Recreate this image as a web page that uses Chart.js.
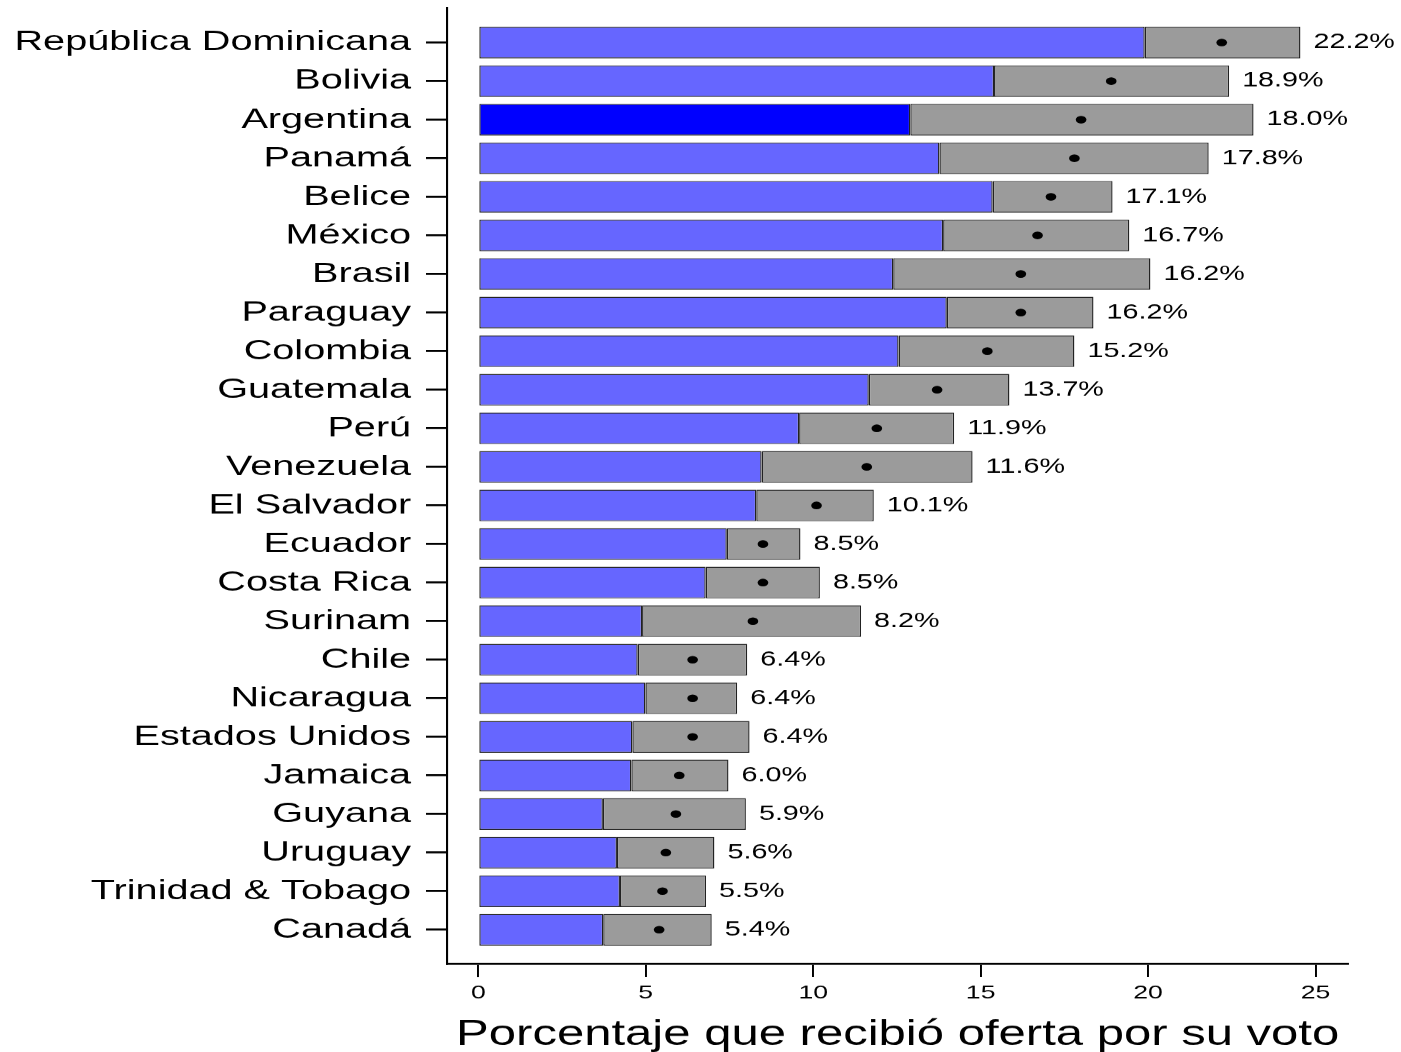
<!DOCTYPE html>
<html>
<head>
<meta charset="utf-8">
<title>Porcentaje que recibió oferta por su voto</title>
<script src="https://cdn.jsdelivr.net/npm/chart.js@4"></script>
<style>
  html, body { margin: 0; padding: 0; background: #fff; }
  #chart { display: block; }
</style>
</head>
<body>
<canvas id="chart" width="1000" height="1052" style="width:1401px;height:1052px"></canvas>
<script>
const countries = [
  "República Dominicana", "Bolivia", "Argentina", "Panamá", "Belice", "México",
  "Brasil", "Paraguay", "Colombia", "Guatemala", "Perú", "Venezuela",
  "El Salvador", "Ecuador", "Costa Rica", "Surinam", "Chile", "Nicaragua",
  "Estados Unidos", "Jamaica", "Guyana", "Uruguay", "Trinidad & Tobago", "Canadá"
];
// lower and upper end of the confidence interval, and the point estimate
const lower = [
  19.90, 15.40, 12.90, 13.77, 15.36, 13.88, 12.39, 13.99, 12.55, 11.66, 9.58, 8.46,
  8.30, 7.42, 6.79, 4.89, 4.76, 4.99, 4.60, 4.57, 3.72, 4.14, 4.23, 3.73
];
const upper = [
  24.55, 22.42, 23.15, 21.81, 18.94, 19.44, 20.07, 18.37, 17.80, 15.86, 14.21, 14.76,
  11.81, 9.62, 10.20, 11.43, 8.03, 7.73, 8.10, 7.47, 7.99, 7.05, 6.80, 6.97
];
const estimate = [
  22.2, 18.9, 18.0, 17.8, 17.1, 16.7, 16.2, 16.2, 15.2, 13.7, 11.9, 11.6,
  10.1, 8.5, 8.5, 8.2, 6.4, 6.4, 6.4, 6.0, 5.9, 5.6, 5.5, 5.4
];
const xTicks = [0, 5, 10, 15, 20, 25];
const highlight = "Argentina";

// the original picture is stretched sideways: draw narrow, widen with css
const stretch = 1401 / 1000;
const font = '"Liberation Sans", Arial, Helvetica, sans-serif';

const valueLabels = {
  id: "valueLabels",
  afterDatasetsDraw(chart) {
    const ctx = chart.ctx;
    const meta = chart.getDatasetMeta(1);
    ctx.save();
    ctx.font = "20.5px " + font;
    ctx.fillStyle = "#000";
    ctx.textAlign = "left";
    ctx.textBaseline = "middle";
    meta.data.forEach((bar, i) => {
      ctx.fillText(estimate[i].toFixed(1) + "%", bar.x + 9.3, bar.y);
    });
    ctx.restore();
  }
};

const chart = new Chart(document.getElementById("chart"), {
  type: "bar",
  data: {
    datasets: [
      {
        data: countries.map((c, i) => ({ y: i, x: [0, lower[i]] })),
        backgroundColor: countries.map((c) => (c === highlight ? "#0000ff" : "#6666ff")),
        borderColor: "#222",
        borderWidth: 1,
        borderSkipped: false,
        grouped: false,
        barPercentage: 0.82,
        categoryPercentage: 1,
        order: 2
      },
      {
        data: countries.map((c, i) => ({ y: i, x: [lower[i], upper[i]] })),
        backgroundColor: "#9b9b9b",
        borderColor: "#222",
        borderWidth: 1,
        borderSkipped: false,
        grouped: false,
        barPercentage: 0.82,
        categoryPercentage: 1,
        order: 1
      },
      {
        type: "scatter",
        data: countries.map((c, i) => ({ y: i, x: estimate[i] })),
        pointRadius: 3.8,
        pointBackgroundColor: "#000",
        pointBorderWidth: 0,
        showLine: false,
        order: 0
      }
    ]
  },
  options: {
    indexAxis: "y",
    responsive: false,
    devicePixelRatio: stretch,
    animation: false,
    layout: { padding: { top: 8, right: 37.6, bottom: 0, left: 0 } },
    plugins: {
      legend: { display: false },
      tooltip: { enabled: false }
    },
    scales: {
      x: {
        type: "linear",
        min: -0.935,
        max: 25.98,
        offset: false,
        afterBuildTicks: (axis) => {
          axis.ticks = xTicks.map((v) => ({ value: v }));
        },
        afterFit: (axis) => {
          axis.height = 88.5;
          axis.paddingLeft = 0;
          axis.paddingRight = 0;
        },
        grid: {
          offset: false,
          drawOnChartArea: false,
          drawTicks: true,
          tickLength: 13,
          lineWidth: 1.4,
          color: "#000"
        },
        border: { display: true, color: "#000", width: 2 },
        ticks: {
          padding: 5,
          color: "#000",
          font: { family: font, size: 19 }
        },
        title: {
          display: true,
          text: "Porcentaje que recibió oferta por su voto",
          color: "#000",
          font: { family: font, size: 35, lineHeight: 1.0 },
          padding: { top: 0, bottom: 0 }
        }
      },
      y: {
        type: "linear",
        reverse: true,
        min: -0.895,
        max: 23.89,
        offset: false,
        afterBuildTicks: (axis) => {
          axis.ticks = countries.map((c, i) => ({ value: i }));
        },
        afterFit: (axis) => {
          axis.width = 319.06;
          axis.paddingTop = 0;
          axis.paddingBottom = 0;
        },
        grid: {
          offset: false,
          drawOnChartArea: false,
          drawTicks: true,
          tickLength: 15,
          lineWidth: 2,
          color: "#000"
        },
        border: { display: true, color: "#000", width: 1.5 },
        ticks: {
          padding: 10.6,
          color: "#000",
          font: { family: font, size: 28.3 },
          callback: (value) => countries[value]
        }
      }
    }
  },
  plugins: [valueLabels]
});
</script>
</body>
</html>
